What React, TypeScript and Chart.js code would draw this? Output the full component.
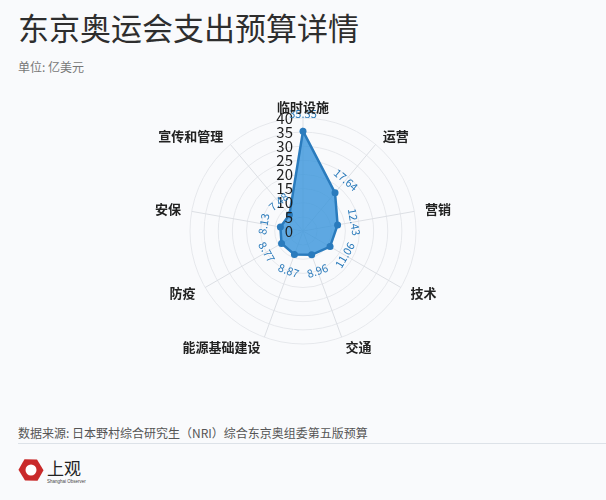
import React, { useEffect, useRef } from "react";
import { Chart, registerables } from "chart.js";

Chart.register(...registerables);

const categories = ["临时设施", "运营", "营销", "技术", "交通", "能源基础建设", "防疫", "安保", "宣传和管理"];
const values = [35.35, 17.64, 12.43, 11.06, 8.96, 8.87, 8.77, 8.13, 7.48];
const tickValues = [0, 5, 10, 15, 20, 25, 30, 35, 40];

const CJK = '"Noto Sans CJK SC", "Noto Sans", sans-serif';

const overlayPlugin = {
  id: "overlay",
  afterDatasetsDraw(chart: any) {
    const scale = chart.scales.r;
    const ctx = chart.ctx;
    const n = categories.length;
    ctx.save();
    // radial tick labels
    ctx.font = `15px ${CJK}`;
    ctx.fillStyle = "#1e1e1e";
    ctx.textAlign = "right";
    ctx.textBaseline = "middle";
    tickValues.forEach((v) => {
      const d = scale.getDistanceFromCenterForValue(v);
      ctx.fillText(String(v), scale.xCenter - 10, scale.yCenter - d);
    });
    // data labels, rotated tangentially
    ctx.font = `11px ${CJK}`;
    ctx.fillStyle = "#2b7bbb";
    ctx.textAlign = "center";
    ctx.textBaseline = "middle";
    values.forEach((v, i) => {
      const deg = (360 / n) * i;
      const p = scale.getPointPosition(i, scale.getDistanceFromCenterForValue(v) + 17);
      let rot = deg;
      if (deg > 90 && deg < 270) rot = deg - 180;
      else if (deg >= 270) rot = deg - 360;
      ctx.save();
      ctx.translate(p.x, p.y);
      ctx.rotate((rot * Math.PI) / 180);
      ctx.fillText(v.toFixed(2), 0, 0);
      ctx.restore();
    });
    // point labels
    ctx.font = `bold 13px ${CJK}`;
    ctx.fillStyle = "#222";
    categories.forEach((label, i) => {
      const deg = (360 / n) * i;
      const top = deg === 0;
      const p = scale.getPointPosition(i, scale.drawingArea + (top ? 4 : 11));
      if (top) {
        ctx.textAlign = "center";
        ctx.textBaseline = "bottom";
      } else {
        ctx.textAlign = deg < 180 ? "left" : "right";
        ctx.textBaseline = "middle";
      }
      ctx.fillText(label, p.x, p.y);
    });
    ctx.restore();
  },
};

function RadarChart() {
  const ref = useRef<HTMLCanvasElement>(null);
  useEffect(() => {
    if (!ref.current) return;
    const chart = new Chart(ref.current, {
      type: "radar",
      data: {
        labels: categories,
        datasets: [
          {
            data: values,
            backgroundColor: "rgba(60,150,220,0.82)",
            borderColor: "#2a7bbd",
            borderWidth: 2.5,
            pointRadius: 3.5,
            pointBackgroundColor: "#2a7bbd",
            pointBorderColor: "#2a7bbd",
            pointBorderWidth: 0,
          },
        ],
      },
      options: {
        responsive: false,
        animation: false,
        devicePixelRatio: 1,
        layout: { padding: { top: 38, bottom: 76, left: 0, right: 0 } },
        plugins: { legend: { display: false }, tooltip: { enabled: false } },
        scales: {
          r: {
            min: 0,
            max: 40,
            ticks: { display: false, stepSize: 5 },
            pointLabels: { display: false },
            grid: { circular: true, color: "#e6e8ec", lineWidth: 1 },
            angleLines: { color: "#dcdfe4", lineWidth: 1 },
          },
        },
      },
      plugins: [overlayPlugin],
    });
    return () => chart.destroy();
  }, []);
  return (
    <canvas
      ref={ref}
      width={606}
      height={340}
      style={{ position: "absolute", left: 0, top: 80, width: 606, height: 340 }}
    />
  );
}

export default function App() {
  return (
    <div
      style={{
        position: "fixed",
        left: 0,
        top: 0,
        width: 606,
        height: 500,
        background: "#f9fafc",
        fontFamily: CJK,
        overflow: "hidden",
      }}
    >
      <div style={{ position: "absolute", left: 18, top: 11, fontSize: 31, lineHeight: "31px", color: "#2e2e2e", whiteSpace: "nowrap" }}>
        东京奥运会支出预算详情
      </div>
      <div style={{ position: "absolute", left: 18, top: 60, fontSize: 12, lineHeight: "14px", color: "#777", whiteSpace: "nowrap" }}>
        单位: 亿美元
      </div>
      <RadarChart />
      <div style={{ position: "absolute", left: 18, top: 426, fontSize: 12, lineHeight: "14px", color: "#555", whiteSpace: "nowrap" }}>
        数据来源: 日本野村综合研究生（NRI）综合东京奥组委第五版预算
      </div>
      <div style={{ position: "absolute", left: 18, top: 443, width: 588, height: 1, background: "#dde2e8" }} />
      <svg style={{ position: "absolute", left: 18, top: 456 }} width={90} height={32}>
        <polygon points="13,1 24,7 24,19 13,25 2,19 2,7" fill="#c92a2a" transform="translate(0,1) rotate(30 13 13)" />
        <circle cx={13} cy={14} r={5.5} fill="#fff" />
        <text x={29} y={19} fontSize={17} fill="#222" fontFamily={CJK}>上观</text>
        <text x={29} y={27} fontSize={4.5} fill="#444" fontFamily="sans-serif">Shanghai Observer</text>
      </svg>
    </div>
  );
}
